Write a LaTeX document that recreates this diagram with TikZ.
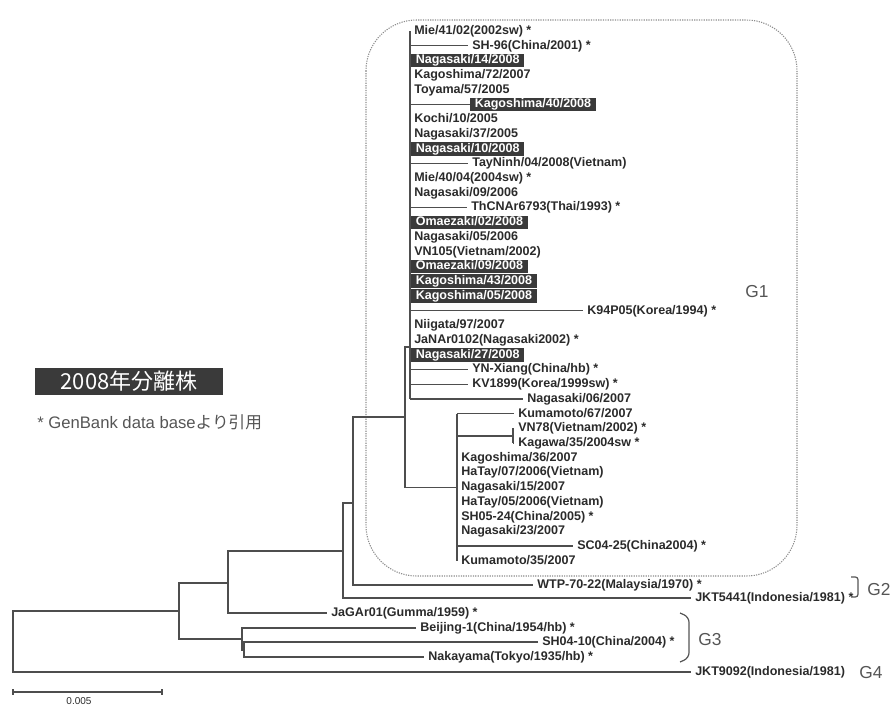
\documentclass[tikz,border=0pt]{standalone}
\usepackage{fontspec}
\setmainfont{Liberation Sans}
\newfontfamily\cjk{Noto Sans CJK JP}
\definecolor{lnc}{HTML}{4E4E4E}
\definecolor{txc}{HTML}{2A2A2A}
\definecolor{hlc}{HTML}{3A3A3A}
\definecolor{gtc}{HTML}{555555}
\definecolor{dtc}{HTML}{8C8C8C}
\begin{document}
\begin{tikzpicture}[x=0.75pt,y=-0.75pt,
  br/.style={draw=lnc,line width=1.1pt},
  lf/.style={anchor=west,inner xsep=3pt,inner ysep=0pt,text=txc,
    font=\bfseries\fontsize{9.4}{11}\selectfont,text height=6.8pt,text depth=1.8pt},
  hl/.style={lf,fill=hlc,text=white,inner ysep=0.8pt,inner xsep=3.4pt},
  grp/.style={text=gtc,inner sep=0pt,font=\fontsize{13}{15}\selectfont},
  brk/.style={draw=gtc,line width=0.9pt,rounded corners=2pt}]
\useasboundingbox (0,0) rectangle (893,707);
% dotted G1 frame
\draw[draw=dtc,line width=0.8pt,dash pattern=on 0.9pt off 0.9pt,rounded corners=38pt]
  (366,20) rectangle (797,576);
% comb leaves
\node[lf] (a1)  at (410,31)     {Mie/41/02(2002sw) *};
\node[lf] (a2)  at (468,45.72)  {SH-96(China/2001) *};
\node[hl] (a3)  at (411,60.44)  {Nagasaki/14/2008};
\node[lf] (a4)  at (410,75.16)  {Kagoshima/72/2007};
\node[lf] (a5)  at (410,89.88)  {Toyama/57/2005};
\node[hl] (a6)  at (470,104.6)  {Kagoshima/40/2008};
\node[lf] (a7)  at (410,119.32) {Kochi/10/2005};
\node[lf] (a8)  at (410,134.04) {Nagasaki/37/2005};
\node[hl] (a9)  at (411,148.76) {Nagasaki/10/2008};
\node[lf] (a10) at (468,163.48) {TayNinh/04/2008(Vietnam)};
\node[lf] (a11) at (410,178.2)  {Mie/40/04(2004sw) *};
\node[lf] (a12) at (410,192.92) {Nagasaki/09/2006};
\node[lf] (a13) at (467,207.64) {ThCNAr6793(Thai/1993) *};
\node[hl] (a14) at (411,222.36) {Omaezaki/02/2008};
\node[lf] (a15) at (410,237.08) {Nagasaki/05/2006};
\node[lf] (a16) at (410,251.8)  {VN105(Vietnam/2002)};
\node[hl] (a17) at (411,266.52) {Omaezaki/09/2008};
\node[hl] (a18) at (411,281.24) {Kagoshima/43/2008};
\node[hl] (a19) at (411,295.96) {Kagoshima/05/2008};
\node[lf] (a20) at (583,310.68) {K94P05(Korea/1994) *};
\node[lf] (a21) at (410,325.4)  {Niigata/97/2007};
\node[lf] (a22) at (410,340.12) {JaNAr0102(Nagasaki2002) *};
\node[hl] (a23) at (411,354.84) {Nagasaki/27/2008};
\node[lf] (a24) at (468,369.56) {YN-Xiang(China/hb) *};
\node[lf] (a25) at (468,384.28) {KV1899(Korea/1999sw) *};
\node[lf] (a26) at (523,399)    {Nagasaki/06/2007};
% subclade leaves
\node[lf] (a27) at (514,413.72) {Kumamoto/67/2007};
\node[lf] (a28) at (514,428.44) {VN78(Vietnam/2002) *};
\node[lf] (a29) at (514,443.16) {Kagawa/35/2004sw *};
\node[lf] (a30) at (457,457.88) {Kagoshima/36/2007};
\node[lf] (a31) at (457,472.6)  {HaTay/07/2006(Vietnam)};
\node[lf] (a32) at (457,487.32) {Nagasaki/15/2007};
\node[lf] (a33) at (457,502.04) {HaTay/05/2006(Vietnam)};
\node[lf] (a34) at (457,516.76) {SH05-24(China/2005) *};
\node[lf] (a35) at (457,531.48) {Nagasaki/23/2007};
\node[lf] (a36) at (573,546.2)  {SC04-25(China2004) *};
\node[lf] (a37) at (457,560.92) {Kumamoto/35/2007};
% outer leaves
\node[lf] (b1) at (533,585) {WTP-70-22(Malaysia/1970) *};
\node[lf] (b2) at (691,598) {JKT5441(Indonesia/1981) *};
\node[lf] (b3) at (327,613) {JaGAr01(Gumma/1959) *};
\node[lf] (b4) at (416,628) {Beijing-1(China/1954/hb) *};
\node[lf] (b5) at (538,642) {SH04-10(China/2004) *};
\node[lf] (b6) at (424,657) {Nakayama(Tokyo/1935/hb) *};
\node[lf] (b7) at (691,672) {JKT9092(Indonesia/1981)};
% internal node coordinates
\coordinate (comb) at (410,347);
\coordinate (g1)   at (405,417);
\coordinate (sub)  at (457,487.32);
\coordinate (vn)   at (513,435.8);
\coordinate (n353) at (353,503);
\coordinate (n343) at (343,551);
\coordinate (n228) at (228,583);
\coordinate (n179) at (179,611);
\coordinate (n242) at (242,639);
\coordinate (n244) at (244,650);
\coordinate (root) at (13,641.5);
% comb
\draw[br] (comb |- a1.west) -- (comb |- a26.west);
\foreach \k in {2,6,10,13,20,24,25,26}
  \draw[br] (comb |- a\k.west) -- (a\k.west);
\draw[br] (comb) -- (g1 |- comb) -- (g1 |- sub) -- (sub);
% subclade
\draw[br] (sub |- a27.west) -- (sub |- a37.west);
\draw[br] (sub |- a27.west) -- (a27.west);
\draw[br] (sub |- a36.west) -- (a36.west);
\draw[br] (sub |- vn) -- (vn);
\draw[br] (vn |- a28.west) -- (vn |- a29.west);
\draw[br] (vn |- a28.west) -- (a28.west);
\draw[br] (vn |- a29.west) -- (a29.west);
% outer tree
\draw[br] (g1) -- (n353 |- g1) -- (n353 |- b1.west) -- (b1.west);
\draw[br] (n353) -- (n343 |- n353) -- (n343 |- b2.west) -- (b2.west);
\draw[br] (n343) -- (n228 |- n343) -- (n228 |- b3.west) -- (b3.west);
\draw[br] (n228) -- (n179 |- n228) -- (n179 |- n242) -- (n242);
\draw[br] (n179) -- (root |- n179) -- (root |- b7.west) -- (b7.west);
\draw[br] (b4.west) -- (n242 |- b4.west) -- (n242 |- n244) -- (n244);
\draw[br] (b5.west) -- (n244 |- b5.west) -- (n244 |- b6.west) -- (b6.west);
% group labels and brackets
\node[grp] (G1) at (757,292) {G1};
\draw[brk] (851,577) -- (858,577) -- (858,597) -- (851,597);
\node[grp] (G2) at (879,590) {G2};
\draw[brk,rounded corners=4pt] (680,613) -- (689,617) -- (689,658) -- (680,662);
\node[grp] (G3) at (710,640) {G3};
\node[grp] (G4) at (871,673) {G4};
% legend
\node[fill=hlc,text=white,minimum width=141pt,minimum height=20.25pt,inner sep=0pt,
  font=\cjk\fontsize{16.5}{18}\selectfont] (leg) at (129,381.5) {2008年分離株};
\node[anchor=west,inner sep=0pt,text=gtc,font=\fontsize{12.5}{14}\selectfont] (note)
  at (37,422) {* GenBank data base{\cjk より引用}};
% scale bar
\coordinate (s1) at (13,692);
\coordinate (s2) at (162,692);
\draw[draw=lnc,line width=0.8pt] (s1) -- (s2);
\draw[draw=lnc,line width=0.8pt] ([yshift=2.2pt]s1) -- ([yshift=-2.2pt]s1);
\draw[draw=lnc,line width=0.8pt] ([yshift=2.2pt]s2) -- ([yshift=-2.2pt]s2);
\node[inner sep=0pt,text=txc,font=\fontsize{7.5}{9}\selectfont] (sc) at (79,701) {0.005};
\end{tikzpicture}
\end{document}
